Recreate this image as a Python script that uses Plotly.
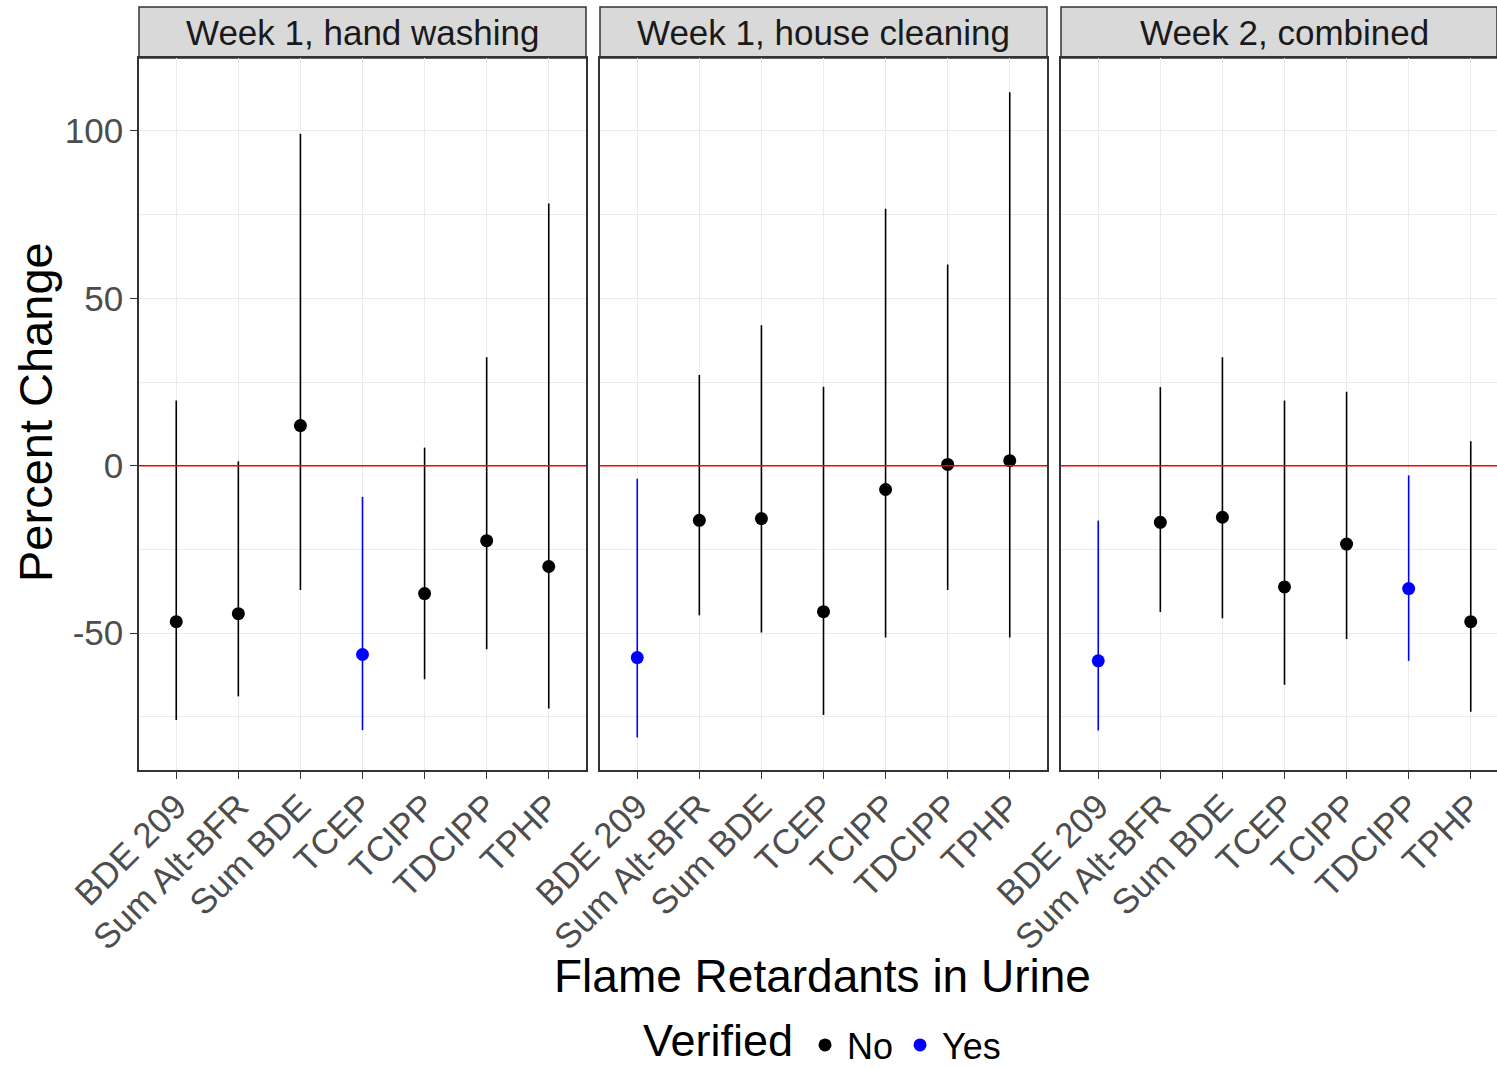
import plotly.graph_objects as go
from plotly.subplots import make_subplots

categories = ["BDE 209", "Sum Alt-BFR", "Sum BDE", "TCEP", "TCIPP", "TDCIPP", "TPHP"]
panels = ["Week 1, hand washing", "Week 1, house cleaning", "Week 2, combined"]

est_hand = [-46.6, -44.2, 12.0, -56.4, -38.2, -22.4, -30.1]
lo_hand = [-76.0, -68.9, -37.1, -79.0, -63.8, -54.8, -72.5]
hi_hand = [19.5, 1.3, 99.2, -9.3, 5.4, 32.4, 78.3]
ver_hand = ["No", "No", "No", "Yes", "No", "No", "No"]

est_house = [-57.3, -16.3, -15.8, -43.6, -7.1, 0.4, 1.5]
lo_house = [-81.2, -44.7, -49.8, -74.5, -51.3, -37.1, -51.3]
hi_house = [-3.9, 27.1, 42.0, 23.6, 76.8, 60.1, 111.6]
ver_house = ["Yes", "No", "No", "No", "No", "No", "No"]

est_comb = [-58.3, -16.9, -15.4, -36.2, -23.4, -36.7, -46.6]
lo_comb = [-79.1, -43.7, -45.6, -65.4, -51.8, -58.3, -73.5]
hi_comb = [-16.4, 23.5, 32.4, 19.5, 22.1, -2.9, 7.3]
ver_comb = ["Yes", "No", "No", "No", "No", "Yes", "No"]

data = [
    (est_hand, lo_hand, hi_hand, ver_hand),
    (est_house, lo_house, hi_house, ver_house),
    (est_comb, lo_comb, hi_comb, ver_comb),
]

colors = {"No": "#000000", "Yes": "#0000FF"}
FONT = "Liberation Sans, Arial, sans-serif"

W, H = 1497, 1069
L, R, T, B = 139, 0, 58, 299
pw = W - L - R
ph = H - T - B

# panel pixel extents
px = [(139, 586), (600, 1047), (1061, 1508)]
unit = (586 - 139) / 7.2

fig = make_subplots(rows=1, cols=3, shared_yaxes=True)

shown = set()
for i, (est, lo, hi, ver) in enumerate(data):
    for v in ["No", "Yes"]:
        idx = [k for k in range(len(categories)) if ver[k] == v]
        if not idx:
            continue
        fig.add_trace(
            go.Scatter(
                x=[categories[k] for k in idx],
                y=[est[k] for k in idx],
                mode="markers",
                marker=dict(color=colors[v], size=13),
                error_y=dict(
                    type="data",
                    symmetric=False,
                    array=[hi[k] - est[k] for k in idx],
                    arrayminus=[est[k] - lo[k] for k in idx],
                    color=colors[v],
                    thickness=1.6,
                    width=0,
                ),
                name=v,
                legendgroup=v,
                showlegend=v not in shown,
            ),
            row=1,
            col=i + 1,
        )
        shown.add(v)

for i in range(3):
    x0, x1 = px[i]
    x1c = min(x1, W - R)
    d0 = (x0 - L) / pw
    d1 = (x1c - L) / pw
    xr = [-0.6, -0.6 + (x1c - x0) / unit]
    ax = "xaxis" if i == 0 else f"xaxis{i+1}"
    fig.layout[ax].update(
        domain=[d0, d1],
        range=xr,
        type="category",
        categoryorder="array",
        categoryarray=categories,
        tickangle=-45,
        tickfont=dict(family=FONT, size=35, color="#4D4D4D"),
        ticks="outside",
        ticklen=7,
        tickcolor="#333333",
        tickwidth=1.2,
        ticklabelstandoff=-7,
        showgrid=True,
        gridcolor="#EBEBEB",
        gridwidth=1.2,
        showline=True,
        mirror=True,
        linecolor="#333333",
        linewidth=1.5,
        zeroline=False,
        automargin=False,
    )
    ay = "yaxis" if i == 0 else f"yaxis{i+1}"
    fig.layout[ay].update(
        range=[-90.9, 121.8],
        tickvals=[-50, 0, 50, 100],
        ticktext=["-50", "0", "50", "100"],
        tickfont=dict(family=FONT, size=35, color="#4D4D4D"),
        ticks="outside" if i == 0 else "",
        ticklen=7,
        tickcolor="#333333",
        tickwidth=1.2,
        showticklabels=(i == 0),
        showgrid=True,
        gridcolor="#EBEBEB",
        gridwidth=1.2,
        minor=dict(tickvals=[-75, -25, 25, 75], showgrid=True, gridcolor="#EBEBEB", gridwidth=0.8),
        showline=True,
        mirror=True,
        linecolor="#333333",
        linewidth=1.5,
        zeroline=False,
        automargin=False,
    )
    xref = "x" if i == 0 else f"x{i+1}"
    yref = "y" if i == 0 else f"y{i+1}"
    # red reference line at zero
    fig.add_shape(type="line", xref=f"{xref} domain", yref=yref, x0=0, x1=1, y0=0, y1=0,
                  line=dict(color="#FF0000", width=1.5), layer="above")
    # strip
    fig.add_shape(type="rect", xref=f"{xref} domain", yref="paper", x0=0, x1=1,
                  y0=1.0, y1=1 + (58 - 7) / ph, fillcolor="#D9D9D9",
                  line=dict(color="#333333", width=1.5), layer="below")
    fig.add_annotation(x=((x0 + x1) / 2 - L) / pw,
                       xref="paper", yref="paper", y=1 + (58 - 7) / ph / 2,
                       text=panels[i], showarrow=False, xanchor="center", yanchor="middle",
                       font=dict(family=FONT, size=35, color="#1A1A1A"))

fig.add_annotation(x=(822 - L) / pw, y=(770 - 976) / ph, xref="paper", yref="paper",
                   text="Flame Retardants in Urine", showarrow=False,
                   xanchor="center", yanchor="middle",
                   font=dict(family=FONT, size=46, color="#000000"))
fig.add_annotation(x=(35 - L) / pw, y=(770 - 412) / ph, xref="paper", yref="paper",
                   text="Percent Change", showarrow=False, textangle=-90,
                   xanchor="center", yanchor="middle",
                   font=dict(family=FONT, size=47, color="#000000"))
# legend title
fig.add_annotation(x=(795 - L) / pw, y=(770 - 1040) / ph, xref="paper", yref="paper",
                   text="Verified", showarrow=False, xanchor="right", yanchor="middle",
                   font=dict(family=FONT, size=45, color="#000000"))

fig.update_layout(
    width=W,
    height=H,
    margin=dict(l=L, r=R, t=T, b=B, autoexpand=False),
    plot_bgcolor="white",
    paper_bgcolor="white",
    showlegend=True,
    legend=dict(
        orientation="h",
        x=(803 - L) / pw,
        xanchor="left",
        yref="container",
        y=(H - 1045) / H,
        yanchor="middle",
        font=dict(family=FONT, size=36, color="#000000"),
        itemwidth=34,
        tracegroupgap=0,
        bgcolor="rgba(0,0,0,0)",
    ),
)

fig.write_html("out.html", config={"displayModeBar": False},
               post_script="document.body.style.margin='0';document.body.style.overflow='hidden';")
